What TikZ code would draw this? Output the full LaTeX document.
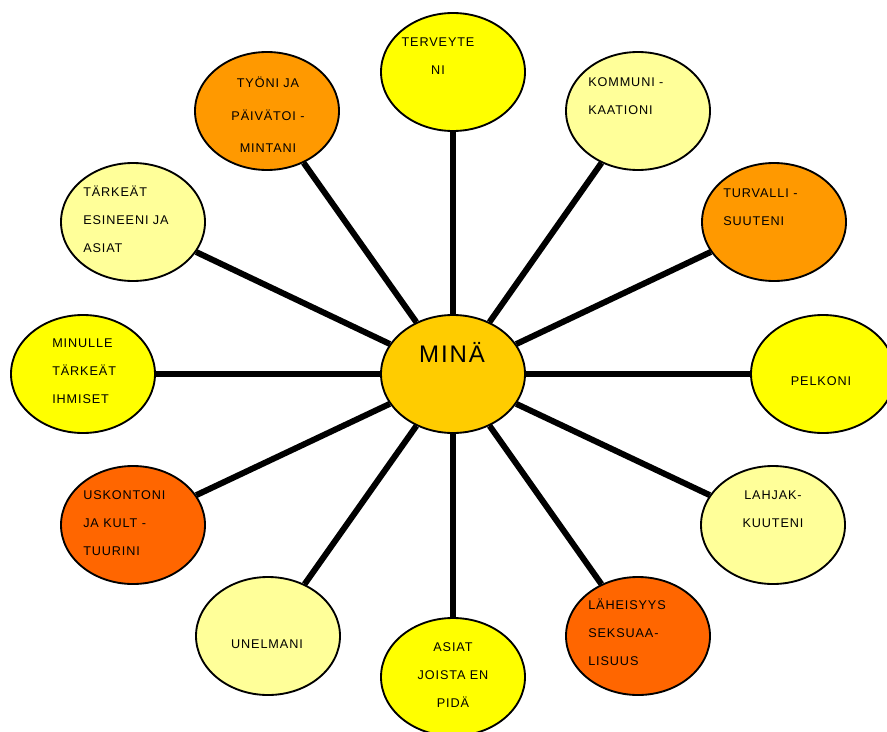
\documentclass[tikz,border=0pt]{standalone}
\usepackage{fontspec}
\setmainfont{Liberation Sans}
\newfontfamily\bubblefont[LetterSpace=7]{Liberation Sans}
\newfontfamily\selffont[LetterSpace=8]{Liberation Sans}
\usetikzlibrary{shapes.geometric,backgrounds}

\definecolor{bright}{HTML}{FFFF00}
\definecolor{pale}{HTML}{FFFF99}
\definecolor{amber}{HTML}{FF9900}
\definecolor{rust}{HTML}{FF6600}
\definecolor{gold}{HTML}{FFCC00}

\newcommand{\capstrut}{\rule{0pt}{10pt}}

\begin{document}
\begin{tikzpicture}[x=0.75pt, y=-0.75pt,
    bubble/.style={ellipse, draw=black, line width=1.4pt,
        minimum width=108pt, minimum height=88.5pt, inner sep=0pt},
    spoke/.style={line width=4.5pt},
    txt/.style={inner sep=0pt, font=\bubblefont\fontsize{9.5}{21}\selectfont}
]

\useasboundingbox (0,0) rectangle (887,731);

% Centre
\node[bubble, fill=gold] (mina) at (453,374) {};
\node[font=\selffont\fontsize{18}{20}\selectfont, anchor=base] (mina-t) at (452,362) {MINÄ};

% Outer bubbles, clockwise from the top
\node[bubble, fill=bright] (ter) at (453,72) {};
\node[bubble, fill=pale] (kom) at (638,111) {};
\node[bubble, fill=amber] (tur) at (774,222) {};
\node[bubble, fill=bright] (pel) at (823,374) {};
\node[bubble, fill=pale] (lahj) at (773,525) {};
\node[bubble, fill=rust] (lhe) at (638,636) {};
\node[bubble, fill=bright] (asi) at (453,677) {};
\node[bubble, fill=pale] (une) at (268,636) {};
\node[bubble, fill=rust] (usk) at (133,525) {};
\node[bubble, fill=bright] (ihm) at (83,374) {};
\node[bubble, fill=pale] (tar) at (133,222) {};
\node[bubble, fill=amber] (tyo) at (267,111) {};

% Texts
\node[txt, anchor=north, align=center] (ter-t) at (438,33) {\capstrut TERVEYTE\\NI};
\node[txt, anchor=north west, align=left] (kom-t) at (588,73) {\capstrut KOMMUNI -\\KAATIONI};
\node[txt, anchor=north west, align=left] (tur-t) at (723,184) {\capstrut TURVALLI -\\SUUTENI};
\node[txt, anchor=north] (pel-t) at (821,372) {\capstrut PELKONI};
\node[txt, anchor=north, align=center] (lahj-t) at (773,486) {\capstrut LAHJAK-\\KUUTENI};
\node[txt, anchor=north west, align=left] (lhe-t) at (588,596) {\capstrut LÄHEISYYS\\SEKSUAA-\\LISUUS};
\node[txt, anchor=north, align=center] (asi-t) at (453,638) {\capstrut ASIAT\\JOISTA EN\\PIDÄ};
\node[txt, anchor=north] (une-t) at (267,635) {\capstrut UNELMANI};
\node[txt, anchor=north west, align=left] (usk-t) at (83,486) {\capstrut USKONTONI\\JA KULT -\\TUURINI};
\node[txt, anchor=north west, align=left] (ihm-t) at (52,334) {\capstrut MINULLE\\TÄRKEÄT\\IHMISET};
\node[txt, anchor=north west, align=left] (tar-t) at (83,183) {\capstrut TÄRKEÄT\\ESINEENI JA\\ASIAT};
\node[txt, anchor=north, align=center, font=\bubblefont\fontsize{9.5}{24.4}\selectfont] (tyo-t) at (268,74) {\capstrut TYÖNI JA\\PÄIVÄTOI -\\MINTANI};

% Spokes
\begin{pgfonlayer}{background}
\foreach \b in {ter,kom,tur,pel,lahj,lhe,asi,une,usk,ihm,tar,tyo}
    \draw[spoke] (mina) -- (\b);
\end{pgfonlayer}

\end{tikzpicture}
\end{document}
